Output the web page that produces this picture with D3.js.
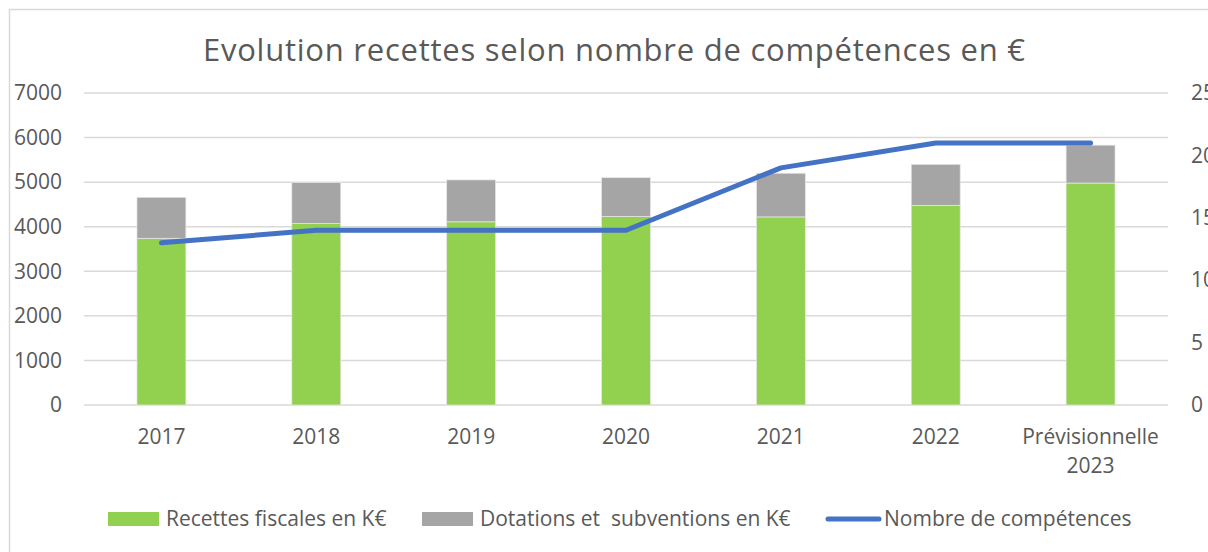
<!DOCTYPE html>
<html>
<head>
<meta charset="utf-8">
<script src="https://cdn.jsdelivr.net/npm/d3@7"></script>
<style>
  body { margin: 0; background: #fff; }
  text { font-family: "Open Sans", sans-serif; fill: #595959; }
</style>
</head>
<body>
<svg width="1208" height="552"></svg>
<script>
// Data
var categories = ['2017', '2018', '2019', '2020', '2021', '2022', 'Prévisionnelle 2023'];
var recettes = [3740, 4070, 4110, 4230, 4220, 4480, 4980];
var dotations = [920, 920, 940, 870, 980, 920, 850];
var competences = [13, 14, 14, 14, 19, 21, 21];
var leftTicks = [0, 1000, 2000, 3000, 4000, 5000, 6000, 7000];
var rightTicks = [0, 5, 10, 15, 20, 25];
var seriesNames = ['Recettes fiscales en K€', 'Dotations et  subventions en K€', 'Nombre de compétences'];

var colors = {green: '#92d050', gray: '#a5a5a5', blue: '#4472c4', grid: '#d9d9d9'};

// plot area
var plotLeft = 84, plotRight = 1168, plotTop = 93, plotBottom = 405;

var svg = d3.select('svg');

// chart frame (cut off at the right and bottom)
svg.append('rect')
  .attr('x', 9.5).attr('y', 9.5)
  .attr('width', 1300).attr('height', 700)
  .attr('fill', '#fff')
  .attr('stroke', colors.grid)
  .attr('stroke-width', 1.5);

// Title
svg.append('text')
  .attr('x', 614).attr('y', 61)
  .attr('text-anchor', 'middle')
  .attr('textLength', 822)
  .attr('lengthAdjust', 'spacing')
  .style('font-size', '31px')
  .text('Evolution recettes selon nombre de compétences en €');

// Scales
var x = d3.scaleBand().domain(categories).range([plotLeft, plotRight])
  .paddingInner(0.684).paddingOuter(0.342);
var y = d3.scaleLinear().domain([0, 7000]).range([plotBottom, plotTop]);
var yR = d3.scaleLinear().domain([0, 25]).range([plotBottom, plotTop]);

// Gridlines
svg.append('g').selectAll('line')
  .data(leftTicks).enter()
  .append('line')
  .attr('x1', plotLeft).attr('x2', plotRight)
  .attr('y1', d => y(d)).attr('y2', d => y(d))
  .attr('stroke', colors.grid)
  .attr('stroke-width', 1.5);

// Left axis
var yAxis = d3.axisLeft(y).tickValues(leftTicks).tickFormat(d3.format('d')).tickSize(0).tickPadding(22);
var gl = svg.append('g').attr('transform', 'translate(' + plotLeft + ',0)').call(yAxis);
// Right axis
var yAxisR = d3.axisRight(yR).tickValues(rightTicks).tickFormat(d3.format('d')).tickSize(0).tickPadding(23);
var gr = svg.append('g').attr('transform', 'translate(' + plotRight + ',0)').call(yAxisR);

[gl, gr].forEach(g => {
  g.select('.domain').remove();
  g.attr('font-family', null).attr('font-size', null);
  g.selectAll('text')
    .attr('fill', null)
    .style('font-size', '21px');
});

// Stacked bars
var stack = categories.map((c, i) => ({cat: c, r: recettes[i], d: dotations[i]}));

svg.append('g').selectAll('rect')
  .data(stack).enter()
  .append('rect')
  .attr('x', d => x(d.cat))
  .attr('width', x.bandwidth())
  .attr('y', d => y(d.r))
  .attr('height', d => y(0) - y(d.r))
  .attr('fill', colors.green)
  .attr('stroke', '#e6e6e6').attr('stroke-width', 0.75);

svg.append('g').selectAll('rect')
  .data(stack).enter()
  .append('rect')
  .attr('x', d => x(d.cat))
  .attr('width', x.bandwidth())
  .attr('y', d => y(d.r + d.d))
  .attr('height', d => y(d.r) - y(d.r + d.d))
  .attr('fill', colors.gray)
  .attr('stroke', '#e6e6e6').attr('stroke-width', 0.75);

// Line for number of competences
var line = d3.line()
  .x((d, i) => x(categories[i]) + x.bandwidth() / 2)
  .y(d => yR(d));

svg.append('path')
  .datum(competences)
  .attr('fill', 'none')
  .attr('stroke', colors.blue)
  .attr('stroke-width', 5)
  .attr('stroke-linecap', 'round')
  .attr('stroke-linejoin', 'round')
  .attr('d', line);

// X axis labels
var xAxis = d3.axisBottom(x).tickSize(0).tickFormat('');
var gx = svg.append('g').attr('transform', 'translate(0,' + plotBottom + ')').call(xAxis);
gx.select('.domain').remove();
gx.selectAll('.tick').each(function(d) {
  var words = d.split(' ');
  var t = d3.select(this).append('text')
    .attr('text-anchor', 'middle')
    .style('font-size', '21px');
  words.forEach((w, i) => {
    t.append('tspan').attr('x', 0).attr('y', 39 + i * 28.7).text(w);
  });
});

// Legend
var legend = svg.append('g');
var legendItems = [
  {name: seriesNames[0], color: colors.green, type: 'rect', x: 108},
  {name: seriesNames[1], color: colors.gray, type: 'rect', x: 422},
  {name: seriesNames[2], color: colors.blue, type: 'line', x: 826}
];
legendItems.forEach(it => {
  if (it.type == 'rect') {
    legend.append('rect')
      .attr('x', it.x).attr('y', 512)
      .attr('width', 51).attr('height', 14)
      .attr('fill', it.color);
  } else {
    legend.append('line')
      .attr('x1', it.x + 2).attr('x2', it.x + 53)
      .attr('y1', 519).attr('y2', 519)
      .attr('stroke', it.color).attr('stroke-width', 5)
      .attr('stroke-linecap', 'round');
  }
  legend.append('text')
    .attr('x', it.x + 58).attr('y', 526)
    .style('font-size', '21px')
    .style('white-space', 'pre')
    .text(it.name);
});
</script>
</body>
</html>
